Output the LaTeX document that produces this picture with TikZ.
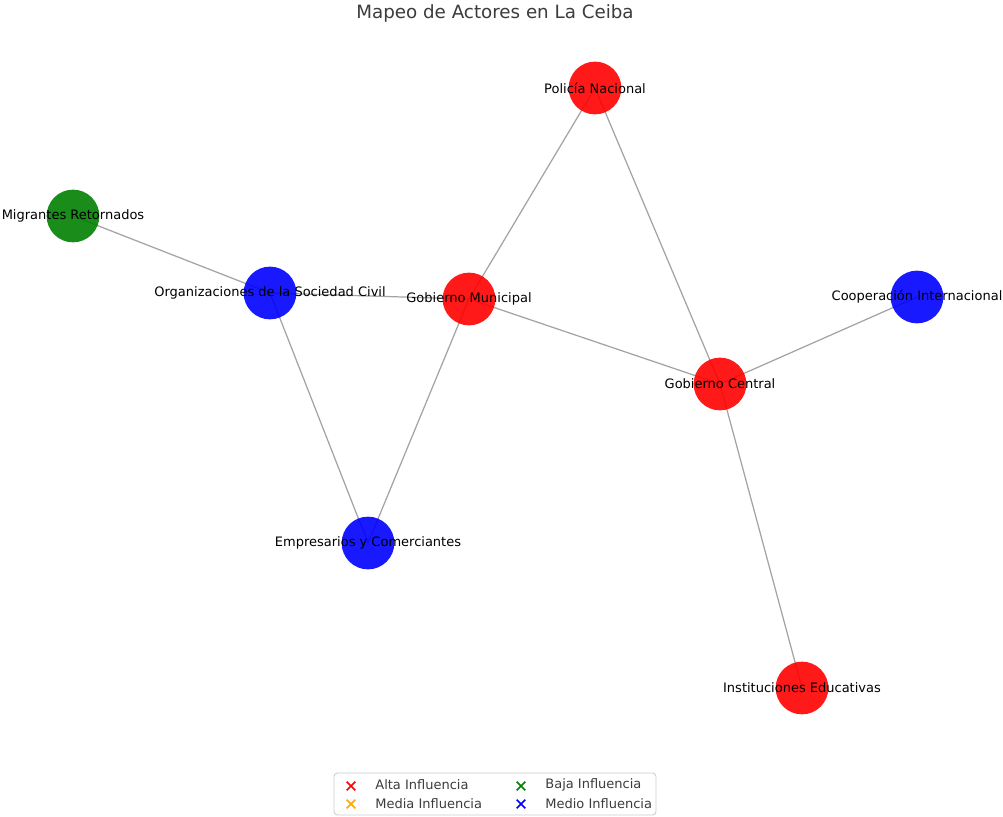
\documentclass[tikz,border=0pt]{standalone}
\usepackage{fontspec}
\setmainfont{DejaVu Sans}
\usetikzlibrary{shapes.misc}
\definecolor{edgegray}{rgb}{0.64, 0.64, 0.64}
\definecolor{altared}{rgb}{1, 0, 0}
\definecolor{bajagreen}{rgb}{0, 0.5, 0}
\definecolor{medioblue}{rgb}{0, 0, 1}
\definecolor{mediaorange}{rgb}{1, 0.65, 0}

\tikzset{
  actor/.style={circle, minimum size=30pt, inner sep=0pt, fill=#1, fill opacity=0.9, text opacity=1},
  lbl/.style={font=\fontsize{7.4}{9}\selectfont, text=black, inner sep=0pt},
  link/.style={edgegray, line width=0.7pt},
  key/.style={cross out, draw=#1, minimum size=4pt, inner sep=0pt, line width=0.9pt}
}

\begin{document}
\begin{tikzpicture}[x=0.02cm, y=-0.02cm]
\useasboundingbox [fill=white] (0,0) rectangle (1003,817);
%\draw [very thin, gray] (0,0) grid [step=50] (1003,817);
\node [font=\fontsize{10.4}{12}\selectfont, text={rgb,255:red,60;green,60;blue,60}] (title) at (495,13) {Mapeo de Actores en La Ceiba};
% positions of the actors
\coordinate (pol) at (595,88);
\coordinate (mig) at (73,216);
\coordinate (osc) at (270,293);
\coordinate (gmu) at (469,299);
\coordinate (coo) at (917,297);
\coordinate (gce) at (720,384);
\coordinate (emp) at (368,543);
\coordinate (ins) at (802,688);
% links
\draw [link] (mig) -- (osc);
\draw [link] (osc) -- (gmu);
\draw [link] (osc) -- (emp);
\draw [link] (gmu) -- (pol);
\draw [link] (gmu) -- (emp);
\draw [link] (gmu) -- (gce);
\draw [link] (pol) -- (gce);
\draw [link] (gce) -- (coo);
\draw [link] (gce) -- (ins);
% actors
\node [actor=altared] (npol) at (pol) {};
\node [actor=bajagreen] (nmig) at (mig) {};
\node [actor=medioblue] (nosc) at (osc) {};
\node [actor=altared] (ngmu) at (gmu) {};
\node [actor=medioblue] (ncoo) at (coo) {};
\node [actor=altared] (ngce) at (gce) {};
\node [actor=medioblue] (nemp) at (emp) {};
\node [actor=altared] (nins) at (ins) {};
\node [lbl] at (npol) {Policía Nacional};
\node [lbl] at (nmig) {Migrantes Retornados};
\node [lbl] at (nosc) {Organizaciones de la Sociedad Civil};
\node [lbl] at (ngmu) {Gobierno Municipal};
\node [lbl] at (ncoo) {Cooperación Internacional};
\node [lbl] at (ngce) {Gobierno Central};
\node [lbl] at (nemp) {Empresarios y Comerciantes};
\node [lbl] at (nins) {Instituciones Educativas};
% legend
\draw [rounded corners=2pt, draw={rgb,255:red,205;green,205;blue,205}, fill=white, line width=0.5pt] (334,773) rectangle (656,815);
\node [key=altared] (kalta) at (351,786) {};
\node [key=mediaorange] (kmedia) at (351,804) {};
\node [key=bajagreen] (kbaja) at (521,786) {};
\node [key=medioblue] (kmedio) at (521,804) {};
\node [lbl, text={rgb,255:red,60;green,60;blue,60}, anchor=west] at (375,785) {Alta Influencia};
\node [lbl, text={rgb,255:red,60;green,60;blue,60}, anchor=west] at (375,804) {Media Influencia};
\node [lbl, text={rgb,255:red,60;green,60;blue,60}, anchor=west] at (545,785) {Baja Influencia};
\node [lbl, text={rgb,255:red,60;green,60;blue,60}, anchor=west] at (545,804) {Medio Influencia};
\end{tikzpicture}
\end{document}
